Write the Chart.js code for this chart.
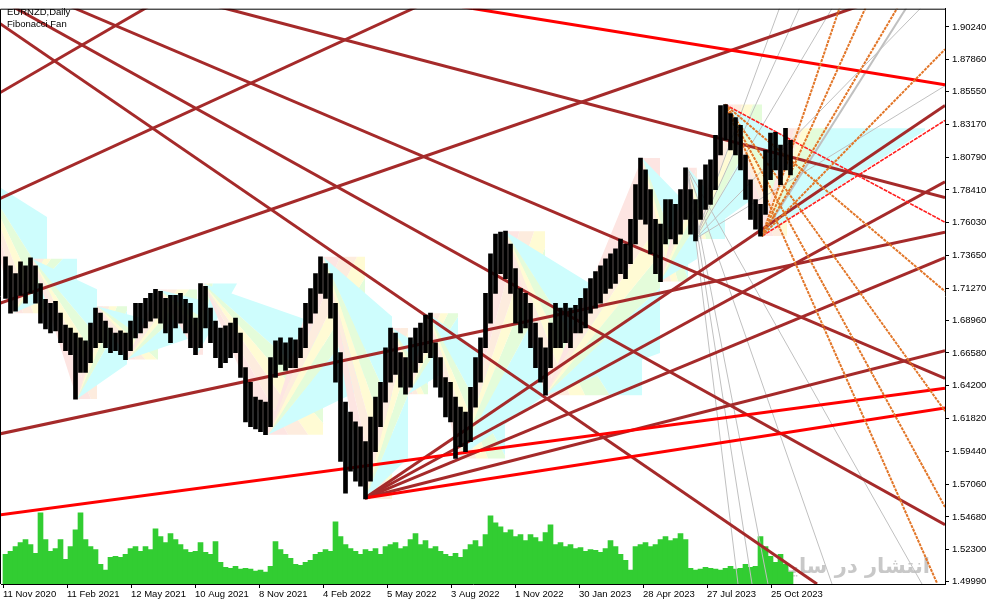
<!DOCTYPE html>
<html><head><meta charset="utf-8">
<script src="https://cdn.jsdelivr.net/npm/chart.js@4.4.0/dist/chart.umd.min.js"></script>
<style>html,body{margin:0;padding:0;background:#fff;overflow:hidden}#wrap{width:991px;height:605px;position:relative}</style>
</head><body><div id="wrap"><canvas id="c"></canvas></div>
<script>
const symbolTitle = 'EURNZD,Daily';
const objectTitle = 'Fibonacci Fan';
const watermarkText = 'انتشار در سایت';

const dateLabels = ['11 Nov 2020','11 Feb 2021','12 May 2021','10 Aug 2021','8 Nov 2021','4 Feb 2022','5 May 2022','3 Aug 2022','1 Nov 2022','30 Jan 2023','28 Apr 2023','27 Jul 2023','25 Oct 2023'];
const dateTickBars = [0,64,128,192,256,320,384,448,512,576,640,704,768];
const priceTicks = [1.90240,1.87860,1.85550,1.83170,1.80790,1.78410,1.76030,1.73650,1.71270,1.68960,1.66580,1.64200,1.61820,1.59440,1.57060,1.54680,1.52300,1.49990];

// price range per 5-bar sample
const highs = [1.7356,1.7291,1.7234,1.7320,1.7291,1.7349,1.7291,1.7162,1.7047,1.7019,1.7033,1.6947,1.6861,1.6839,1.6803,1.6767,1.6746,1.6875,1.6983,1.6947,
1.6889,1.6839,1.6803,1.6818,1.6803,1.6889,1.7019,1.7019,1.7054,1.7090,1.7119,1.7105,1.7054,1.7076,1.7076,1.7090,1.7047,1.7019,1.6911,1.7162,
1.7141,1.6983,1.6889,1.6839,1.6854,1.6875,1.6911,1.6803,1.6552,1.6445,1.6337,1.6315,1.6301,1.6624,1.6746,1.6767,1.6732,1.6767,1.6753,1.6839,
1.7019,1.7126,1.7234,1.7356,1.7306,1.7234,1.7019,1.6660,1.6301,1.6229,1.6158,1.6122,1.6014,1.6193,1.6337,1.6445,1.6696,1.6839,1.6803,1.6660,
1.6624,1.6767,1.6839,1.6875,1.6932,1.6947,1.6732,1.6624,1.6480,1.6445,1.6337,1.6265,1.6229,1.6409,1.6624,1.6767,1.7090,1.7377,1.7521,1.7535,
1.7542,1.7449,1.7270,1.7126,1.7090,1.7019,1.6875,1.6767,1.6696,1.6875,1.7019,1.6983,1.7019,1.6983,1.7004,1.7054,1.7126,1.7198,1.7248,1.7291,
1.7341,1.7377,1.7413,1.7485,1.7449,1.7628,1.7880,1.8073,1.7987,1.7844,1.7628,1.7593,1.7772,1.7772,1.7736,1.7844,1.8002,1.7844,1.7772,1.7915,
1.8023,1.8059,1.8238,1.8454,1.8461,1.8396,1.8367,1.8310,1.8095,1.7915,1.7772,1.7736,1.8131,1.8253,1.8260,1.8167,1.8289,1.8202];
const lows = [1.7054,1.6947,1.6961,1.7076,1.7019,1.7090,1.7019,1.6875,1.6832,1.6803,1.6818,1.6732,1.6674,1.6645,1.6323,1.6516,1.6516,1.6588,1.6696,1.6732,
1.6696,1.6660,1.6674,1.6645,1.6610,1.6674,1.6767,1.6803,1.6839,1.6889,1.6911,1.6875,1.6803,1.6732,1.6839,1.6875,1.6803,1.6696,1.6645,1.6696,
1.6839,1.6732,1.6624,1.6552,1.6588,1.6624,1.6660,1.6480,1.6158,1.6122,1.6107,1.6086,1.6064,1.6122,1.6480,1.6574,1.6531,1.6552,1.6552,1.6624,
1.6696,1.6875,1.6947,1.7090,1.7054,1.6911,1.6445,1.5871,1.5641,1.5799,1.5727,1.5691,1.5598,1.5727,1.5942,1.6122,1.6301,1.6445,1.6502,1.6409,
1.6358,1.6409,1.6516,1.6588,1.6660,1.6624,1.6409,1.6337,1.6193,1.6158,1.5892,1.5978,1.5942,1.6014,1.6265,1.6445,1.6696,1.6875,1.7090,1.7234,
1.7198,1.7090,1.6875,1.6803,1.6839,1.6696,1.6552,1.6445,1.6351,1.6552,1.6696,1.6696,1.6732,1.6696,1.6803,1.6803,1.6839,1.6947,1.6983,1.7019,
1.7090,1.7126,1.7162,1.7234,1.7198,1.7306,1.7449,1.7628,1.7593,1.7377,1.7234,1.7176,1.7449,1.7485,1.7449,1.7521,1.7628,1.7521,1.7471,1.7628,
1.7700,1.7736,1.7844,1.8095,1.8202,1.8131,1.8095,1.7987,1.7772,1.7628,1.7557,1.7506,1.7664,1.7915,1.7987,1.7880,1.7987,1.7951];
const volumes = [60,66,76,84,90,80,62,144,90,66,72,90,50,76,110,144,90,76,70,40,
28,54,56,54,60,72,76,66,76,70,112,96,84,102,90,80,70,64,66,84,
64,60,86,44,34,32,36,30,32,30,26,28,24,36,86,70,60,52,40,38,
44,48,60,64,70,66,126,96,80,72,66,60,70,66,72,60,76,80,84,72,
76,90,102,80,88,72,76,66,60,56,62,54,70,80,88,76,100,138,124,116,
104,110,96,100,88,100,94,86,104,120,80,84,76,80,72,74,66,70,68,64,
72,88,76,60,48,28,76,80,84,76,80,90,96,88,92,102,90,32,28,30,
34,32,30,28,32,36,30,32,40,34,36,96,76,56,44,60,40,24];

// zigzag swing points (bar, price) and where each leg's fan fill ends
const zzBar = [-23,10,29,74,94,124,155,194,200,265,320,362,389,405,425,455,502,542,639,657,685,694,722,759,784];
const zzPrice = [1.7951,1.6947,1.7341,1.6323,1.6997,1.6610,1.7119,1.6645,1.7162,1.6064,1.7356,1.5598,1.6839,1.6358,1.6947,1.5892,1.7542,1.6351,1.8073,1.7176,1.8002,1.7485,1.8461,1.7506,1.8289];
const fanEndBar = [44,74,94,124,155,194,200,265,320,362,389,405,425,455,502,542,639,657,685,694,722,759,784,922];
const fanLevels = [0,0.236,0.382,0.5,0.618,0.85];
const fanColors = ['rgb(253,229,226)','rgb(253,236,222)','rgb(255,251,212)','rgb(228,252,218)','rgb(206,253,253)'];

// trend lines [bar1, price1, bar2, price2]
const brownLines = [
  [-3,1.8547,145,1.9171],[-3,1.7779,414,1.9171],[-3,1.6071,942,1.7535],[-3,1.7019,854,1.9171],
  [-3,1.9049,814,1.4981],[10,1.9171,942,1.5411],[216,1.9171,942,1.7786],[68,1.9171,942,1.6473]
];
const brownFanOrigin = [362,1.5605];
const brownFanEnds = [[942,1.8454],[942,1.7901],[942,1.7349],[942,1.6674]];
const redLines = [[459,1.9171,942,1.8604],[-3,1.5483,942,1.6402],[362,1.5605,942,1.6258]];
const thinRedLines = [[722,1.8461,942,1.7607],[759,1.7506,942,1.8346]];
const orangeOriginP = [722,1.8461];
const orangeEndsP = [[942,1.7105],[942,1.6236],[942,1.5540],[934,1.4988]];
const orangeOriginL = [759,1.7506];
const orangeEndsL = [[837,1.9171],[863,1.9171],[895,1.9171],[942,1.8862]];
const grayOriginA = [692,1.7485];
const grayEndsA = [[777,1.9171],[797,1.9171],[830,1.9171],[919,1.9171],[942,1.8597]];
const grayOriginB = [684,1.8002];
const grayEndsB = [[735,1.4981],[749,1.4981],[765,1.4981],[829,1.4981],[919,1.4981]];
const grayThick = [[759,1.7506,904,1.9171]];

const sampleBars = highs.map((_, i) => i * 5 + 2.5);

const datasets = [];
const seg = (a, color, width, order, dash) => ({
  type:'line', data:[{x:a[0],y:a[1]},{x:a[2],y:a[3]}], borderColor:color, borderWidth:width,
  borderDash:dash||[], pointRadius:0, pointHoverRadius:0, fill:false, clip:0, order,
  borderCapStyle:'butt', tension:0, xAxisID:'x', yAxisID:'y'
});

datasets.push({type:'bar', data:highs.map((h,i)=>({x:sampleBars[i], y:[lows[i], h]})),
  backgroundColor:'#000', borderWidth:0, barThickness:4, grouped:false, order:0, xAxisID:'x', yAxisID:'y'});
datasets.push({type:'bar', data:volumes.map((v,i)=>({x:sampleBars[i], y:v})),
  backgroundColor:'rgb(50,205,50)', borderWidth:0, barThickness:5, grouped:false, order:60, xAxisID:'x', yAxisID:'yv'});

brownLines.forEach(a => datasets.push(seg(a,'rgb(165,42,42)',3,20)));
brownFanEnds.forEach(e => datasets.push(seg([brownFanOrigin[0],brownFanOrigin[1],e[0],e[1]],'rgb(165,42,42)',3,20)));
redLines.forEach(a => datasets.push(seg(a,'rgb(255,0,0)',3,18)));
thinRedLines.forEach(a => datasets.push(seg(a,'rgb(255,30,30)',1.6,16,[4,1])));
orangeEndsP.forEach(e => datasets.push(seg([orangeOriginP[0],orangeOriginP[1],e[0],e[1]],'rgb(226,118,40)',2,14,[3,1])));
orangeEndsL.forEach(e => datasets.push(seg([orangeOriginL[0],orangeOriginL[1],e[0],e[1]],'rgb(226,118,40)',2,14,[3,1])));
grayEndsA.forEach(e => datasets.push(seg([grayOriginA[0],grayOriginA[1],e[0],e[1]],'rgb(192,192,192)',1,30)));
grayEndsB.forEach(e => datasets.push(seg([grayOriginB[0],grayOriginB[1],e[0],e[1]],'rgb(192,192,192)',1,30)));
grayThick.forEach(a => datasets.push(seg(a,'rgb(192,192,192)',2,30)));

function clipHalf(pts, keep, edge){
  const out=[];
  for(let i=0;i<pts.length;i++){
    const a=pts[i], b=pts[(i+1)%pts.length];
    const ia=keep(a), ib=keep(b);
    if(ia) out.push(a);
    if(ia!==ib){ const t=(edge-a.y)/(b.y-a.y); out.push({x:a.x+t*(b.x-a.x), y:edge}); }
  }
  return out;
}
for(let i=0;i<zzBar.length-1;i++){
  const x1=zzBar[i], p1=zzPrice[i], x2=zzBar[i+1], p2=zzPrice[i+1], xe=fanEndBar[i];
  const lo=Math.min(p1,p2), hi=Math.max(p1,p2);
  const rayAt = L => { const pa=p2+L*(p1-p2); return p1+(pa-p1)*(xe-x1)/(x2-x1); };
  for(let k=0;k<fanLevels.length-1;k++){
    let poly=[{x:x1,y:p1},{x:xe,y:rayAt(fanLevels[k])},{x:xe,y:rayAt(fanLevels[k+1])}];
    poly=clipHalf(poly,q=>q.y>=lo,lo);
    if(poly.length<3) continue;
    poly=clipHalf(poly,q=>q.y<=hi,hi);
    if(poly.length<3) continue;
    datasets.push({type:'line', data:poly, fill:'shape', backgroundColor:fanColors[k],
      borderColor:'rgba(0,0,0,0)', borderWidth:0, pointRadius:0, pointHoverRadius:0,
      clip:0, order:1000-i, tension:0, xAxisID:'x', yAxisID:'y'});
  }
}

const textPlugin = {
  id:'texts',
  beforeDatasetsDraw(chart){
    const ctx=chart.ctx; ctx.save();
    ctx.font='bold 21px "DejaVu Sans"'; ctx.fillStyle='rgb(200,200,200)';
    ctx.textAlign='right'; ctx.textBaseline='alphabetic';
    ctx.fillText(watermarkText, 930, 573); ctx.restore();
  },
  afterDatasetsDraw(chart){
    const ctx=chart.ctx, a=chart.chartArea; ctx.save();
    ctx.font='9.5px "Liberation Sans"'; ctx.fillStyle='#000'; ctx.textAlign='left'; ctx.textBaseline='alphabetic';
    ctx.fillText(symbolTitle, 7, 15); ctx.fillText(objectTitle, 7, 27);
    ctx.strokeStyle='#000'; ctx.lineWidth=1; ctx.beginPath();
    ctx.moveTo(0.5, a.bottom); ctx.lineTo(0.5, a.top+0.5); ctx.lineTo(a.right, a.top+0.5); ctx.stroke();
    ctx.restore();
  }
};

const axisFont = {family:'Liberation Sans', size:9.5};
new Chart(document.getElementById('c'), {
  type:'bar',
  data:{datasets},
  options:{
    responsive:true, maintainAspectRatio:false, animation:false, devicePixelRatio:1, events:[],
    layout:{padding:{left:1, top:2, right:0, bottom:0}},
    plugins:{legend:{display:false}, tooltip:{enabled:false}, title:{display:false}},
    scales:{
      x:{type:'linear', min:-2, max:942, offset:false, position:'bottom',
        grid:{drawOnChartArea:false, drawTicks:true, tickLength:4, color:'#000', offset:false},
        border:{display:true, color:'#000'},
        ticks:{autoSkip:false, maxRotation:0, minRotation:0, align:'start', padding:1, color:'#000', font:axisFont,
          callback:(v)=>{const i=dateTickBars.indexOf(v); return i>=0?dateLabels[i]:'';}},
        afterBuildTicks:s=>{s.ticks=dateTickBars.map(v=>({value:v}));},
        afterFit:s=>{s.height=21;}},
      y:{type:'linear', position:'right', min:1.49809, max:1.91567,
        grid:{drawOnChartArea:false, drawTicks:true, tickLength:4, color:'#000'},
        border:{display:true, color:'#000'},
        ticks:{padding:3, color:'#000', font:axisFont, callback:v=>Number(v).toFixed(5)},
        afterBuildTicks:s=>{s.ticks=priceTicks.map(v=>({value:v}));},
        afterFit:s=>{s.width=46;}},
      yv:{type:'linear', display:false, min:0, max:1166}
    }
  },
  plugins:[textPlugin]
});
</script></body></html>
